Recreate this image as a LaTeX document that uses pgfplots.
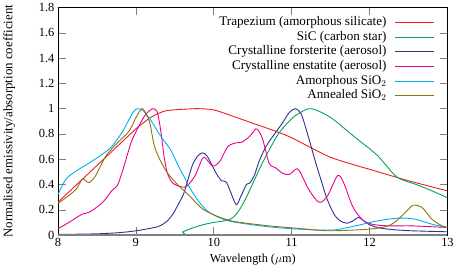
\documentclass[border=0pt]{standalone}
\usepackage{pgfplots}
\pgfplotsset{compat=1.18}
\usepackage{fontspec}
\setmainfont{Liberation Serif}
\definecolor{cRed}{RGB}{237,28,36}
\definecolor{cGreen}{RGB}{0,166,81}
\definecolor{cNavy}{RGB}{46,49,146}
\definecolor{cMag}{RGB}{236,0,140}
\definecolor{cCyan}{RGB}{0,174,239}
\definecolor{cOlive}{RGB}{140,115,10}
\tikzset{legtext/.style={anchor=east, inner sep=0pt, text height=9.2pt, text depth=3pt, font=\fontsize{13.2}{15}\selectfont}}
\begin{document}
\begin{tikzpicture}
\begin{axis}[
  scale only axis, width=392pt, height=229pt,
  xmin=8, xmax=13, ymin=0, ymax=1.8,
  xtick={8,9,10,11,12,13},
  ytick={0,0.2,0.4,0.6,0.8,1,1.2,1.4,1.6,1.8},
  /pgf/number format/assume math mode=true,
  tick label style={font=\fontsize{12.5}{14}\selectfont},
  major tick length=8pt,
  tick style={gray, line width=0.6pt},
  axis line style={black, line width=0.6pt},
  xlabel={Wavelength ($\mu$m)},
  xlabel style={font=\fontsize{12.3}{14}\selectfont},
  ylabel={Normalised emissivity/absorption coefficient},
  ylabel style={at={(axis description cs:-0.125,0.5)}, anchor=center, font=\fontsize{13}{15}\selectfont},
  every axis plot/.append style={line width=0.9pt, smooth, tension=0.5},
]
\addplot[color=cRed] coordinates {(8,0.26) (8.25,0.405) (8.5,0.55) (8.75,0.695) (9,0.84) (9.1,0.89) (9.2,0.935) (9.3,0.965) (9.4,0.985) (9.6,0.995) (9.8,1.0) (10,0.99) (10.2,0.95) (10.5,0.885) (10.8,0.82) (11,0.77) (11.25,0.69) (11.5,0.615) (11.75,0.565) (12,0.52) (12.5,0.43) (13,0.35)};
\addplot[color=cGreen] coordinates {(8,0) (9.5,0) (9.6,0.025) (9.7,0.05) (9.85,0.08) (10,0.1) (10.15,0.115) (10.25,0.14) (10.35,0.22) (10.45,0.34) (10.6,0.54) (10.7,0.66) (10.84,0.81) (11,0.92) (11.1,0.965) (11.25,1.0) (11.5,0.93) (11.8,0.78) (12.1,0.63) (12.35,0.46) (12.6,0.40) (12.8,0.35) (13,0.295)};
\addplot[color=cNavy] coordinates {(8,0.005) (8.5,0.01) (8.8,0.02) (9,0.034) (9.2,0.055) (9.31,0.073) (9.4,0.11) (9.48,0.17) (9.55,0.25) (9.61,0.32) (9.67,0.44) (9.73,0.56) (9.8,0.63) (9.86,0.65) (9.92,0.62) (10.03,0.49) (10.1,0.43) (10.16,0.42) (10.22,0.335) (10.29,0.24) (10.35,0.31) (10.42,0.40) (10.46,0.41) (10.52,0.47) (10.58,0.58) (10.67,0.70) (10.78,0.80) (10.88,0.885) (10.97,0.97) (11.05,1.0) (11.12,0.96) (11.18,0.85) (11.25,0.7) (11.31,0.57) (11.38,0.43) (11.44,0.31) (11.5,0.22) (11.56,0.15) (11.63,0.11) (11.71,0.094) (11.78,0.11) (11.86,0.14) (11.92,0.115) (11.99,0.085) (12.1,0.06) (12.24,0.047) (12.5,0.035) (13,0.026)};
\addplot[color=cMag] coordinates {(8,0.05) (8.14,0.1) (8.31,0.165) (8.4,0.18) (8.57,0.256) (8.69,0.35) (8.76,0.39) (8.81,0.47) (8.86,0.57) (8.95,0.75) (9.08,0.91) (9.15,0.97) (9.22,1.0) (9.27,0.98) (9.3,0.9) (9.33,0.78) (9.36,0.63) (9.4,0.5) (9.45,0.43) (9.5,0.40) (9.6,0.38) (9.66,0.39) (9.76,0.47) (9.86,0.61) (9.92,0.59) (9.99,0.545) (10.08,0.585) (10.18,0.70) (10.29,0.73) (10.36,0.735) (10.46,0.78) (10.54,0.84) (10.58,0.82) (10.63,0.755) (10.71,0.57) (10.8,0.53) (10.88,0.49) (10.97,0.48) (11.07,0.525) (11.14,0.46) (11.22,0.36) (11.35,0.26) (11.46,0.31) (11.59,0.47) (11.67,0.41) (11.78,0.23) (11.9,0.126) (12.03,0.086) (12.24,0.073) (12.54,0.073) (13,0.06)};
\addplot[color=cCyan] coordinates {(8,0.32) (8.1,0.44) (8.23,0.505) (8.4,0.57) (8.57,0.64) (8.69,0.70) (8.82,0.81) (8.9,0.9) (8.97,0.977) (9.03,1.0) (9.1,0.98) (9.2,0.9) (9.29,0.81) (9.38,0.73) (9.45,0.67) (9.56,0.53) (9.63,0.45) (9.69,0.375) (9.82,0.256) (9.94,0.18) (10.12,0.126) (10.29,0.1) (10.71,0.065) (11.1,0.047) (11.52,0.04) (11.82,0.073) (12.08,0.11) (12.37,0.134) (12.58,0.126) (12.8,0.086) (13,0.06)};
\addplot[color=cOlive] coordinates {(8,0.25) (8.1,0.295) (8.23,0.36) (8.31,0.44) (8.36,0.43) (8.4,0.415) (8.48,0.466) (8.61,0.62) (8.74,0.715) (8.91,0.82) (9.01,0.94) (9.08,1.0) (9.13,0.96) (9.18,0.885) (9.24,0.70) (9.33,0.57) (9.42,0.48) (9.55,0.39) (9.69,0.31) (9.86,0.205) (10.08,0.14) (10.29,0.105) (10.71,0.073) (11.1,0.052) (11.48,0.034) (11.99,0.047) (12.24,0.073) (12.37,0.126) (12.5,0.205) (12.56,0.236) (12.67,0.22) (12.8,0.126) (12.93,0.073) (13,0.06)};
\addplot[gray, line width=1.2pt, sharp plot] coordinates {(8,0) (13,0)};
% legend
\addplot[cRed, sharp plot] coordinates {(12.329,1.682) (12.826,1.682)};
\addplot[cGreen, sharp plot] coordinates {(12.329,1.564) (12.826,1.564)};
\addplot[cNavy, sharp plot] coordinates {(12.329,1.449) (12.826,1.449)};
\addplot[cMag, sharp plot] coordinates {(12.329,1.333) (12.826,1.333)};
\addplot[cCyan, sharp plot] coordinates {(12.329,1.215) (12.826,1.215)};
\addplot[cOlive, sharp plot] coordinates {(12.329,1.103) (12.826,1.103)};
\node[legtext] at (axis cs:12.22,1.682) {Trapezium (amorphous silicate)};
\node[legtext] at (axis cs:12.22,1.564) {SiC (carbon star)};
\node[legtext] at (axis cs:12.22,1.449) {Crystalline forsterite (aerosol)};
\node[legtext] at (axis cs:12.22,1.333) {Crystalline enstatite (aerosol)};
\node[legtext] at (axis cs:12.22,1.215) {Amorphous SiO$_2$};
\node[legtext] at (axis cs:12.22,1.103) {Annealed SiO$_2$};
\end{axis}
\end{tikzpicture}
\end{document}
